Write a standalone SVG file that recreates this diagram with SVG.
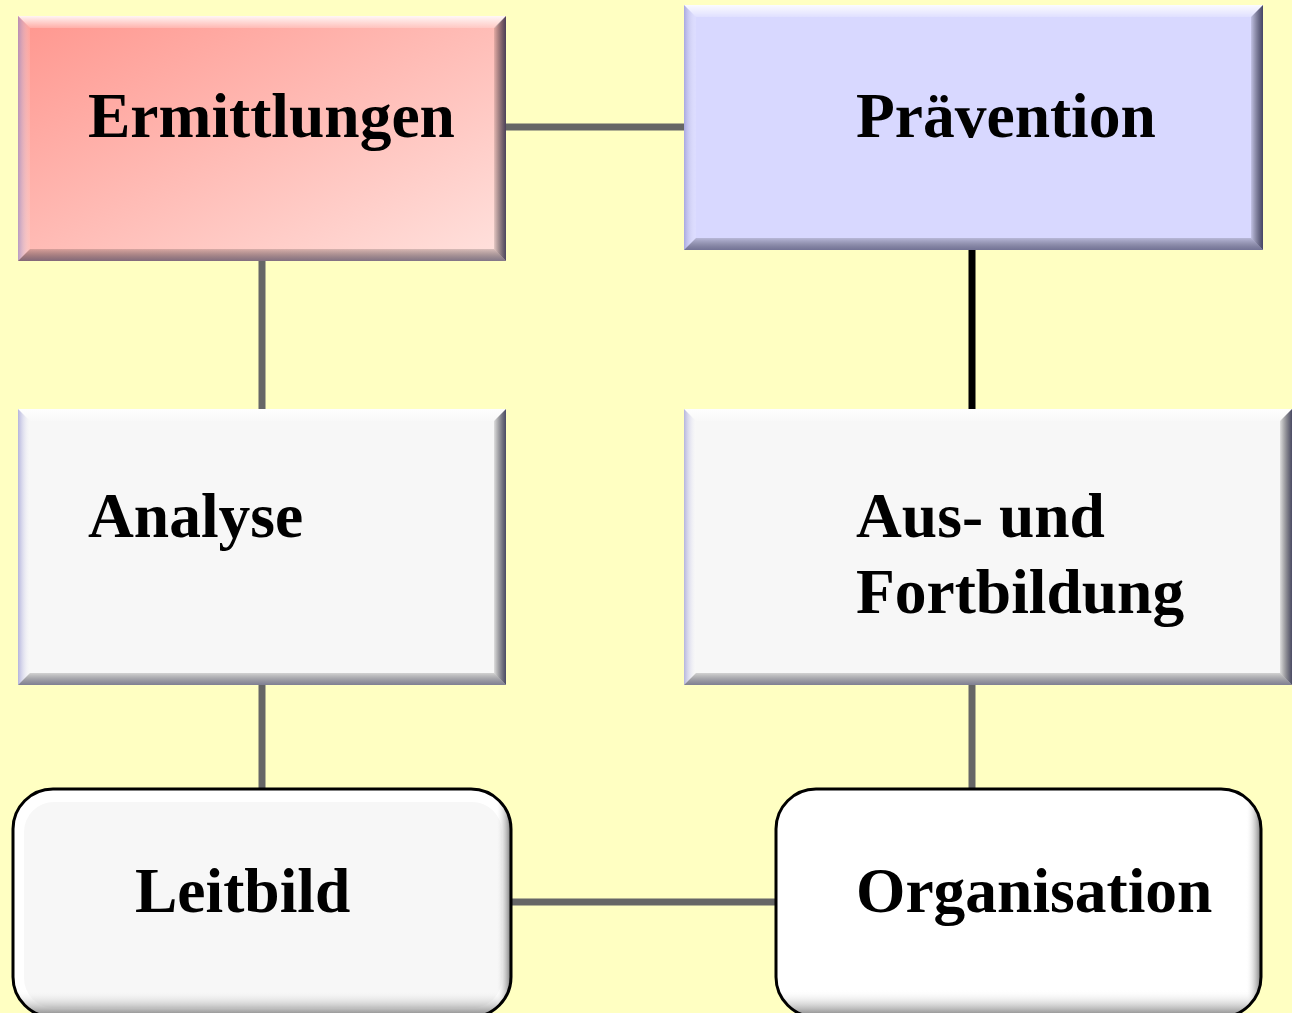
<svg xmlns="http://www.w3.org/2000/svg" width="1292" height="1013" viewBox="0 0 1292 1013">
<defs>
<linearGradient id="redg" x1="0" y1="0" x2="1" y2="1">
<stop offset="0" stop-color="#FF968E"/>
<stop offset="1" stop-color="#FFE2DE"/>
</linearGradient>
<linearGradient id="bevT" x1="0" y1="0" x2="0" y2="1"><stop offset="0" stop-color="#fff" stop-opacity="0.9"/><stop offset="1" stop-color="#fff" stop-opacity="0.2"/></linearGradient>
<linearGradient id="bevL" x1="0" y1="0" x2="1" y2="0"><stop offset="0" stop-color="#8888cc" stop-opacity="0.6"/><stop offset="1" stop-color="#fff" stop-opacity="0.1"/></linearGradient>
<linearGradient id="bevR" x1="0" y1="0" x2="1" y2="0"><stop offset="0" stop-color="#000" stop-opacity="0.1"/><stop offset="1" stop-color="#202040" stop-opacity="0.8"/></linearGradient>
<linearGradient id="bevB" x1="0" y1="0" x2="0" y2="1"><stop offset="0" stop-color="#000" stop-opacity="0.15"/><stop offset="1" stop-color="#303050" stop-opacity="0.6"/></linearGradient>
<linearGradient id="rndB" x1="0" y1="0" x2="0" y2="1"><stop offset="0" stop-color="#fff" stop-opacity="0"/><stop offset="1" stop-color="#666" stop-opacity="0.9"/></linearGradient>
<linearGradient id="rndR" x1="0" y1="0" x2="1" y2="0"><stop offset="0" stop-color="#fff" stop-opacity="0"/><stop offset="1" stop-color="#666" stop-opacity="0.9"/></linearGradient>
<clipPath id="clipL"><rect x="13" y="789" width="498" height="228" rx="40"/></clipPath>
<clipPath id="clipO"><rect x="776" y="789" width="485" height="228" rx="40"/></clipPath>
</defs>
<style>
.lbl{font-family:"Liberation Serif","Times New Roman",serif;font-weight:bold;font-size:63.5px;fill:#000}
.con{stroke:#666;stroke-width:7;fill:none}
.rnd{stroke:#000;stroke-width:3;fill:none}
</style>
<rect width="1292" height="1013" fill="#FFFFC2"/>
<g id="connectors">
<line class="con" x1="506" y1="127" x2="684" y2="127"/>
<line class="con" x1="262" y1="261" x2="262" y2="409"/>
<line class="con" x1="972" y1="250" x2="972" y2="409" style="stroke:#000"/>
<line class="con" x1="262" y1="685" x2="262" y2="788"/>
<line class="con" x1="972" y1="685" x2="972" y2="788"/>
<line class="con" x1="512" y1="902" x2="775" y2="902"/>
</g>
<g id="ermittlungen">
<rect x="18" y="16" width="488" height="245" fill="url(#redg)"/>
<polygon points="18,16 506,16 496,28 30,28" fill="url(#bevT)"/>
<polygon points="18,16 30,28 30,249 18,261" fill="url(#bevL)"/>
<polygon points="506,16 506,261 494,249 494,28" fill="url(#bevR)"/>
<polygon points="18,261 506,261 494,249 30,249" fill="url(#bevB)"/>
<text class="lbl" x="88" y="137">Ermittlungen</text>
</g>
<g id="praevention">
<rect x="684" y="5" width="579" height="245" fill="#D8D8FF"/>
<polygon points="684,5 1263,5 1251,17 696,17" fill="url(#bevT)"/>
<polygon points="684,5 696,17 696,238 684,250" fill="url(#bevL)"/>
<polygon points="1263,5 1263,250 1251,238 1251,17" fill="url(#bevR)"/>
<polygon points="684,250 1263,250 1251,238 696,238" fill="url(#bevB)"/>
<text class="lbl" x="856" y="137">Prävention</text>
</g>
<g id="analyse">
<rect x="18" y="409" width="488" height="276" fill="#F7F7F7"/>
<polygon points="18,409 506,409 494,421 30,421" fill="url(#bevT)"/>
<polygon points="18,409 30,421 30,673 18,685" fill="url(#bevL)"/>
<polygon points="506,409 506,685 494,673 494,421" fill="url(#bevR)"/>
<polygon points="18,685 506,685 494,673 30,673" fill="url(#bevB)"/>
<text class="lbl" x="88" y="537">Analyse</text>
</g>
<g id="ausbildung">
<rect x="684" y="409" width="608" height="276" fill="#F7F7F7"/>
<polygon points="684,409 1292,409 1280,421 696,421" fill="url(#bevT)"/>
<polygon points="684,409 696,421 696,673 684,685" fill="url(#bevL)"/>
<polygon points="1292,409 1292,685 1280,673 1280,421" fill="url(#bevR)"/>
<polygon points="684,685 1292,685 1280,673 696,673" fill="url(#bevB)"/>
<text class="lbl" x="856" y="537">Aus- und</text>
<text class="lbl" x="856" y="613">Fortbildung</text>
</g>
<g id="leitbild">
<rect x="13" y="789" width="498" height="228" rx="40" fill="#FFFFFF"/>
<g clip-path="url(#clipL)">
<rect x="24" y="802" width="478" height="206" rx="30" fill="#F7F7F7"/>
<rect x="13" y="990" width="498" height="27" fill="url(#rndB)"/>
<rect x="496" y="789" width="15" height="228" fill="url(#rndR)"/>
</g>
<rect class="rnd" x="13" y="789" width="498" height="228" rx="40"/>
<text class="lbl" x="135" y="912">Leitbild</text>
</g>
<g id="organisation">
<rect x="776" y="789" width="485" height="228" rx="40" fill="#FFFFFF"/>
<g clip-path="url(#clipO)">
<rect x="776" y="990" width="485" height="27" fill="url(#rndB)"/>
<rect x="1246" y="789" width="15" height="228" fill="url(#rndR)"/>
</g>
<rect class="rnd" x="776" y="789" width="485" height="228" rx="40"/>
<text class="lbl" x="856" y="912">Organisation</text>
</g>
</svg>
